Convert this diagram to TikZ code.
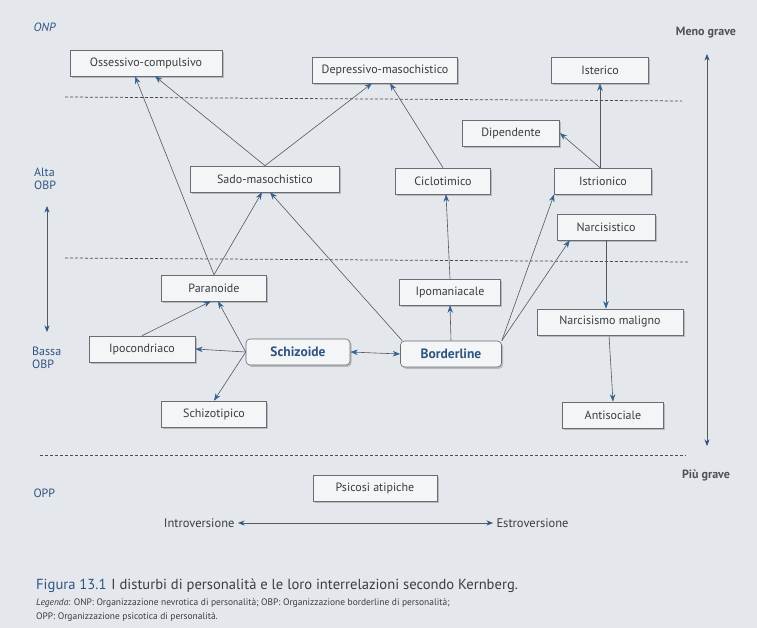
\documentclass[tikz,border=0pt]{standalone}
\usepackage{fontspec}
\setmainfont{PT Sans}
\usetikzlibrary{arrows.meta,shadows,calc}
\definecolor{bgc}{RGB}{228,232,236}
\definecolor{boxfill}{RGB}{243,245,247}
\definecolor{boxline}{RGB}{105,108,115}
\definecolor{txt}{RGB}{58,60,66}
\definecolor{kblue}{RGB}{48,84,130}
\definecolor{tipblue}{RGB}{52,98,148}
\definecolor{linec}{RGB}{85,88,95}
\tikzset{
  x=1pt, y=-1pt,
  box/.style={draw=boxline, line width=0.6pt, fill=boxfill, minimum height=26pt,
    inner sep=2pt, font=\fontsize{12}{14}\selectfont, text=txt,
    drop shadow={shadow xshift=1.6pt, shadow yshift=-1.8pt, opacity=0.35, fill=black!60}},
  keybox/.style={box, rounded corners=4pt, font=\fontsize{13.5}{15}\selectfont\bfseries, text=kblue},
  conn/.style={draw=linec, line width=0.6pt, -{Stealth[length=7.5pt,width=5.5pt,color=tipblue]}},
  biconn/.style={draw=linec, line width=0.6pt, {Stealth[length=7.5pt,width=5.5pt,color=tipblue]}-{Stealth[length=7.5pt,width=5.5pt,color=tipblue]}},
  axis/.style={draw=linec, line width=0.6pt, {Stealth[length=6.5pt,width=5pt,color=kblue]}-{Stealth[length=6.5pt,width=5pt,color=kblue]}},
  level/.style={draw=linec!85!black, line width=0.75pt, dash pattern=on 3pt off 2pt},
  lvl/.style={font=\fontsize{12}{13}\selectfont, text=kblue, align=left},
  sev/.style={font=\fontsize{12}{14}\selectfont\bfseries, text=txt!90},
}
\begin{document}
\begin{tikzpicture}
\fill[bgc] (0,0) rectangle (757,628);
\useasboundingbox (0,0) rectangle (757,628);

% level separators
\draw[level] (65,97) -- (682,101);
\draw[level] (65,258) -- (688,262);
\draw[level] (40,455) -- (686,455);

% nodes
\node[box, minimum width=152pt] (oc) at (146,63) {Ossessivo-compulsivo};
\node[box, minimum width=145pt] (dm) at (385,70) {Depressivo-masochistico};
\node[box, minimum width=97pt] (ist) at (600,70) {Isterico};
\node[box, minimum width=97pt] (dip) at (511,133) {Dipendente};
\node[box, minimum width=149pt] (sado) at (265,179) {Sado-masochistico};
\node[box, minimum width=95pt] (cic) at (443,181) {Ciclotimico};
\node[box, minimum width=97pt] (istr) at (603,181) {Istrionico};
\node[box, minimum width=98pt] (narc) at (606,227) {Narcisistico};
\node[box, minimum width=105pt] (para) at (214,288) {Paranoide};
\node[box, minimum width=101pt] (ipom) at (450,292) {Ipomaniacale};
\node[box, minimum width=146pt] (nm) at (610,322) {Narcisismo maligno};
\node[box, minimum width=106pt] (ipoc) at (142,349) {Ipocondriaco};
\node[keybox, minimum width=104pt] (schiz) at (298,352) {Schizoide};
\node[keybox, minimum width=101pt] (bord) at (451,354) {Borderline};
\node[box, minimum width=105pt] (schizot) at (214,414) {Schizotipico};
\node[box, minimum width=101pt] (anti) at (613,415) {Antisociale};
\node[box, minimum width=124pt] (psic) at (375,488) {Psicosi atipiche};

% connectors
\draw[conn] (para.north) -- ([xshift=-11pt]oc.south);
\draw[conn] (sado.north) -- ([xshift=9pt]oc.south);
\draw[conn] (sado.north) -- ([xshift=-13pt]dm.south);
\draw[conn] (cic.north) -- ([xshift=5pt]dm.south);
\draw[conn] ([xshift=-3pt]istr.north) -- (ist.south);
\draw[conn] ([xshift=-3pt]istr.north) -- (dip.east);
\draw[conn] (para.north) -- ([xshift=-3pt]sado.south);
\draw[conn] ([xshift=2pt]bord.north west) -- ([xshift=5pt]sado.south);
\draw[conn] (ipom.north) -- ([xshift=3pt]cic.south);
\draw[conn] (bord.north) -- (ipom.south);
\draw[conn] (bord.north east) -- (istr.south west);
\draw[conn] (bord.north east) -- ([xshift=13pt]narc.south west);
\draw[conn] (narc.south) -- (narc.south |- nm.north);
\draw[conn] ([xshift=-1pt]nm.south) -- (anti.north);
\draw[biconn] (schiz.east) -- (bord.west);
\draw[conn] (schiz.west) -- (ipoc.east);
\draw[conn] (schiz.west) -- ([xshift=4pt]para.south);
\draw[conn] (schiz.west) -- (schizot.north);
\draw[conn] (ipoc.north) -- ([xshift=-3pt]para.south);

% left level labels
\node[lvl, font=\fontsize{12}{13}\selectfont\itshape, anchor=west] (onp) at (30,27) {ONP};
\node[lvl, anchor=west, inner sep=0pt] (alta) at (34,179) {Alta\\OBP};
\node[lvl, anchor=west, inner sep=0pt] (bassa) at (32,358) {Bassa\\OBP};
\node[lvl, anchor=west] (opp) at (30,493) {OPP};
\coordinate (la) at (47,206);
\coordinate (lb) at (47,332);
\draw[axis] (la) -- (lb);

% severity
\node[sev] (meno) at (706,33) {Meno grave};
\node[sev] (piu) at (706,475) {Più grave};
\coordinate (sa) at (707,54);
\coordinate (sb) at (707,446);
\draw[axis] (sa) -- (sb);

% introversion / extroversion
\node[font=\fontsize{12.5}{14}\selectfont, text=txt, anchor=east] (intro) at (238,523) {Introversione};
\node[font=\fontsize{12.5}{14}\selectfont, text=txt, anchor=west] (estro) at (493,523) {Estroversione};
\draw[axis] (intro.east) -- (estro.west);

% caption
\node[anchor=west, inner sep=0pt, font=\fontsize{14.6}{16}\selectfont, text=txt] (cap) at (36,586)
  {\textcolor{kblue}{Figura 13.1}\hspace{5pt}I disturbi di personalità e le loro interrelazioni secondo Kernberg.};
\node[anchor=north west, inner sep=0pt, align=left, font=\fontsize{9.45}{14}\selectfont, text=txt] (leg) at (36,598)
  {\textit{Legenda}: ONP: Organizzazione nevrotica di personalità; OBP: Organizzazione borderline di personalità;\\
   OPP: Organizzazione psicotica di personalità.};
\end{tikzpicture}
\end{document}
